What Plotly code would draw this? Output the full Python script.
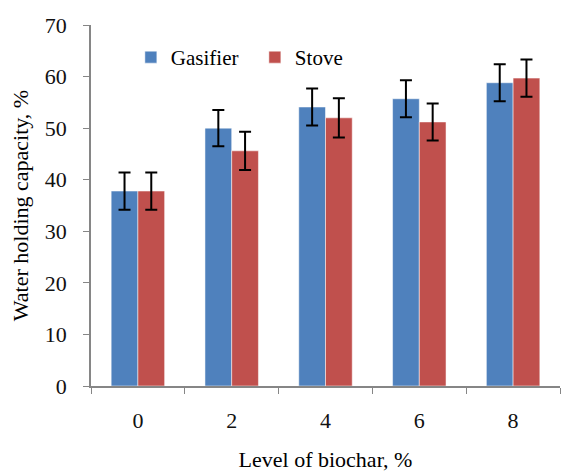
import plotly.graph_objects as go

levels = ["0", "2", "4", "6", "8"]
gasifier = [37.8, 50.0, 54.1, 55.7, 58.8]
gasifier_err = [3.6, 3.5, 3.6, 3.6, 3.6]
stove = [37.8, 45.6, 52.0, 51.2, 59.7]
stove_err = [3.6, 3.7, 3.8, 3.6, 3.6]

font_family = "Liberation Serif, Times New Roman, serif"

fig = go.Figure()
fig.add_trace(go.Bar(
    x=levels, y=gasifier, name="Gasifier",
    marker=dict(color="#4F81BD", line=dict(color="rgba(255,255,255,0.5)", width=1)),
    error_y=dict(type="data", array=gasifier_err, color="black", thickness=2, width=6),
))
fig.add_trace(go.Bar(
    x=levels, y=stove, name="Stove",
    marker=dict(color="#C0504D", line=dict(color="rgba(255,255,255,0.5)", width=1)),
    error_y=dict(type="data", array=stove_err, color="black", thickness=2, width=6),
))

fig.update_layout(
    width=561, height=472,
    margin=dict(l=91, r=1, t=25, b=86),
    paper_bgcolor="white", plot_bgcolor="white",
    barmode="group", bargap=0.43, bargroupgap=0,
    font=dict(family=font_family, size=22, color="#111111"),
    showlegend=True,
    legend=dict(orientation="h", x=0.085, y=0.91, xanchor="left", yanchor="middle",
                font=dict(family=font_family, size=21, color="black"),
                bgcolor="rgba(0,0,0,0)", itemwidth=30, tracegroupgap=0,
                entrywidth=79),
    xaxis=dict(
        type="category", showline=True, linecolor="#868686", linewidth=1.5,
        ticks="outside", tickson="boundaries", ticklen=6, tickcolor="#868686",
        showgrid=False, zeroline=False, ticklabelstandoff=14,
        tickfont=dict(family=font_family, size=22, color="#111111"),
        title=dict(text="Level of biochar, %", font=dict(family=font_family, size=22, color="black"), standoff=22),
    ),
    yaxis=dict(
        range=[0, 70], dtick=10, showline=True, linecolor="#868686", linewidth=1.5,
        ticks="outside", ticklen=6, tickcolor="#868686",
        showgrid=False, zeroline=False, ticklabelstandoff=12,
        tickfont=dict(family=font_family, size=22, color="#111111"),
        title=dict(text="Water holding capacity, %", font=dict(family=font_family, size=22, color="black"), standoff=10),
    ),
)

fig.write_html("out.html")
